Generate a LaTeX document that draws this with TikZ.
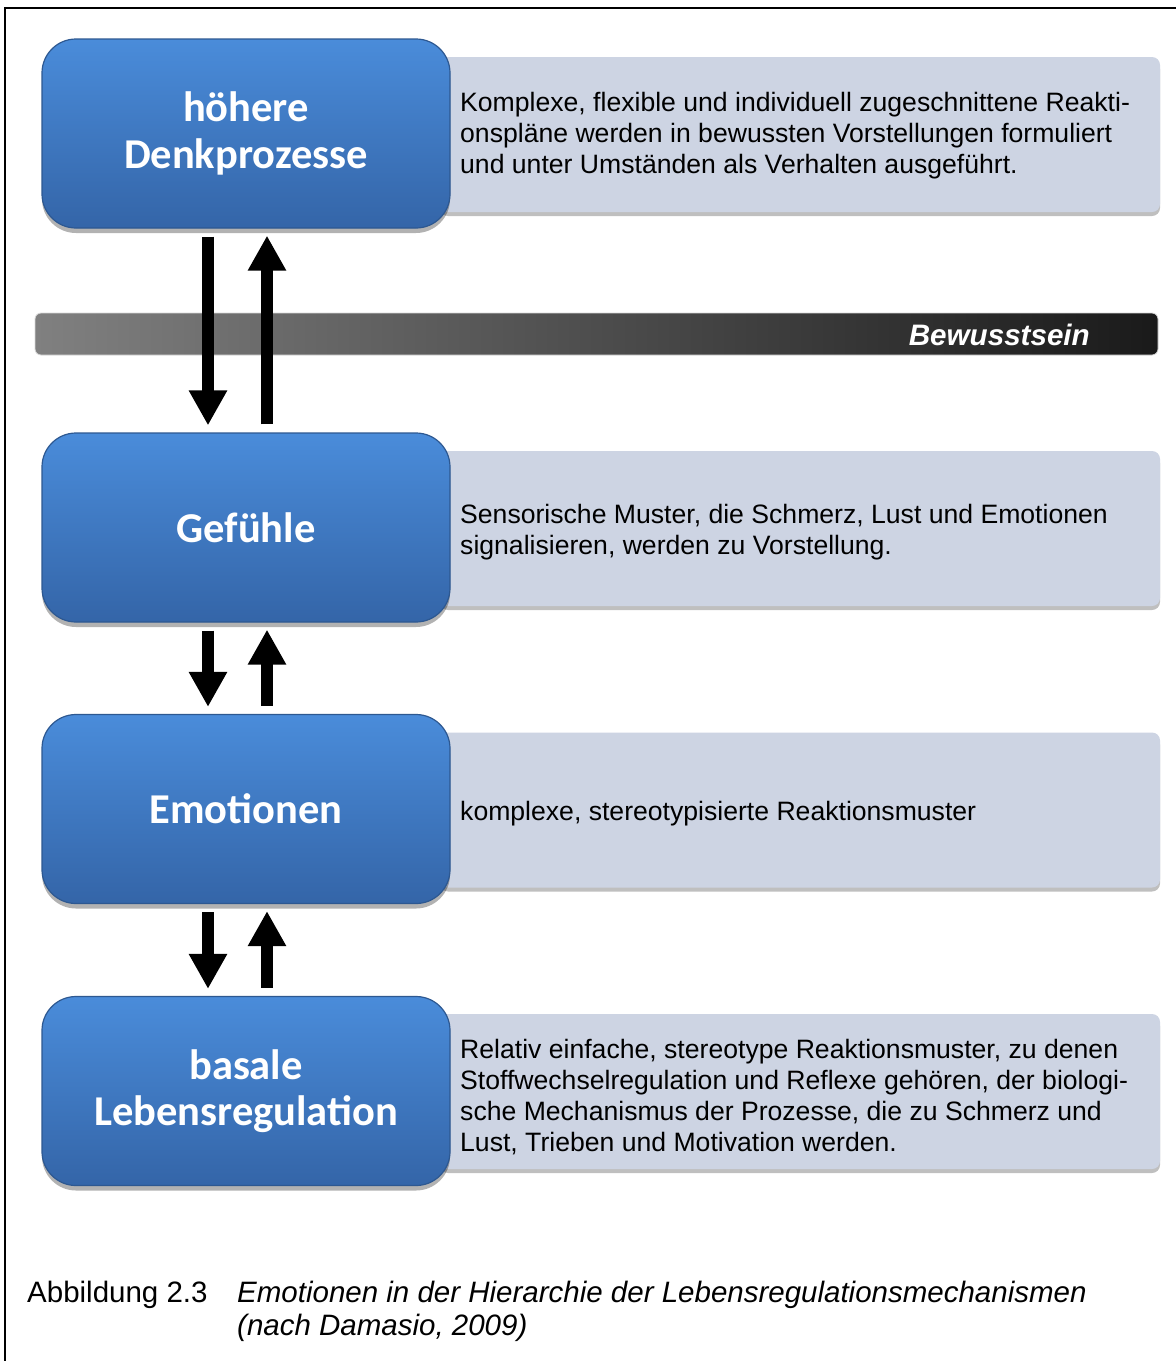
\documentclass[tikz,border=0pt]{standalone}
\usepackage{fontspec}
\setmainfont{Liberation Sans}
\newfontfamily\labelfont{Carlito}
\usetikzlibrary{arrows.meta,shadows,positioning}

\definecolor{boxtop}{RGB}{74,140,218}
\definecolor{boxbottom}{RGB}{52,101,168}
\definecolor{boxedge}{RGB}{45,88,145}
\definecolor{panelfill}{RGB}{205,212,227}
\definecolor{barlight}{RGB}{128,128,128}
\definecolor{bardark}{RGB}{26,26,26}

\tikzset{
  level/.style={
    rounded corners=34pt, minimum width=408pt, minimum height=189pt,
    top color=boxtop, bottom color=boxbottom, draw=boxedge, line width=1.2pt,
    drop shadow={shadow xshift=0pt, shadow yshift=-5pt, opacity=0.3, fill=black},
    text=white, align=center,
    font=\labelfont\bfseries\fontsize{42.5}{46.5}\selectfont
  },
  panel/.style={
    fill=panelfill, rounded corners=8pt, minimum width=720pt, minimum height=155pt,
    drop shadow={shadow xshift=0pt, shadow yshift=-4pt, opacity=0.25, fill=black}
  },
  paneltext/.style={
    anchor=west, align=left, text=black, inner sep=0pt,
    font=\fontsize{26.6}{31}\selectfont
  },
  flow/.style={
    line width=12pt,
    -{Triangle[width=36pt,length=35pt]},
    shorten <=8pt, shorten >=7pt
  }
}

\begin{document}
\begin{tikzpicture}[x=1pt,y=-1pt]
  \useasboundingbox (0,0) rectangle (1176,1361);
  \fill[white] (0,0) rectangle (1176,1361);

  % outer frame (top and left edges)
  \draw[line width=2pt] (5,1361) -- (5,8) -- (1176,8);

  % description panels behind the level boxes
  \node[panel] (p1) at (800,134.5) {};
  \node[panel] (p2) at (800,528.5) {};
  \node[panel] (p3) at (800,810) {};
  \node[panel] (p4) at (800,1091.5) {};

  \node[paneltext] (t1) at (460,136) {Komplexe, flexible und individuell zugeschnittene Reakti-\\onspläne werden in bewussten Vorstellungen formuliert\\und unter Umständen als Verhalten ausgeführt.};
  \node[paneltext] (t2) at (460,532.5) {Sensorische Muster, die Schmerz, Lust und Emotionen\\signalisieren, werden zu Vorstellung.};
  \node[paneltext] (t3) at (460,814) {komplexe, stereotypisierte Reaktionsmuster};
  \node[paneltext] (t4) at (460,1097) {Relativ einfache, stereotype Reaktionsmuster, zu denen\\Stoffwechselregulation und Reflexe gehören, der biologi-\\sche Mechanismus der Prozesse, die zu Schmerz und\\Lust, Trieben und Motivation werden.};

  % consciousness threshold bar
  \node[rounded corners=6pt, minimum width=1123pt, minimum height=42pt,
        left color=barlight, right color=bardark, draw=black!15, line width=0.8pt,
        inner sep=0pt] (bar) at (596.5,334) {};
  \node[anchor=east, inner sep=0pt, text=white,
        font=\bfseries\itshape\fontsize{29.6}{32}\selectfont]
        (bartext) at (1090,335) {Bewusstsein};

  % hierarchy levels
  \node[level] (b1) at (246,133.5) {höhere\\Denkprozesse};
  \node[level] (b2) at (246,527.5) {Gefühle};
  \node[level] (b3) at (246,809) {Emotionen};
  \node[level] (b4) at (246,1091) {basale\\Lebensregulation};

  % two-way influence between neighbouring levels
  \draw[flow] ([xshift=-38pt]b1.south) -- ([xshift=-38pt]b2.north);
  \draw[flow] ([xshift=21pt]b2.north) -- ([xshift=21pt]b1.south);
  \draw[flow] ([xshift=-38pt]b2.south) -- ([xshift=-38pt]b3.north);
  \draw[flow] ([xshift=21pt]b3.north) -- ([xshift=21pt]b2.south);
  \draw[flow] ([xshift=-38pt]b3.south) -- ([xshift=-38pt]b4.north);
  \draw[flow] ([xshift=21pt]b4.north) -- ([xshift=21pt]b3.south);

  % caption
  \node[anchor=west, inner sep=0pt, font=\fontsize{29.5}{33}\selectfont]
        (capnum) at (27,1295) {Abbildung 2.3};
  \node[anchor=north west, align=left, inner sep=0pt,
        font=\itshape\fontsize{29.5}{33}\selectfont] (captext) at (237,1281)
        {Emotionen in der Hierarchie der Lebensregulationsmechanismen\\(nach Damasio, 2009)};
\end{tikzpicture}
\end{document}
